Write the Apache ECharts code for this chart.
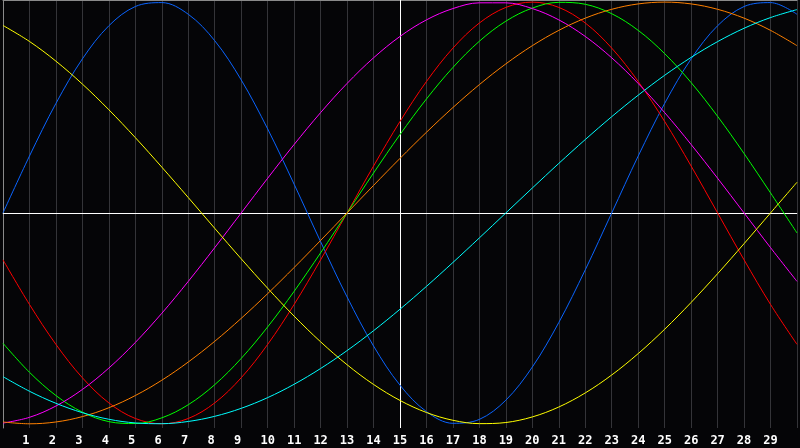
<!DOCTYPE html>
<html><head><meta charset="utf-8">
<script src="https://cdn.jsdelivr.net/npm/echarts@6/dist/echarts.min.js"></script>
<style>html,body{margin:0;padding:0;background:#050507;overflow:hidden;}#c{width:800px;height:448px;}</style>
</head><body><div id="c"></div>
<script>
const days = [0,1,2,3,4,5,6,7,8,9,10,11,12,13,14,15,16,17,18,19,20,21,22,23,24,25,26,27,28,29,30];
const tickLabels = ['1','2','3','4','5','6','7','8','9','10','11','12','13','14','15','16','17','18','19','20','21','22','23','24','25','26','27','28','29'];

const blueValues = [0,0.2698,0.5196,0.7308,0.8879,0.9791,0.9977,0.9423,0.8170,0.6311,0.3984,0.1362,-0.1362,-0.3984,-0.6311,-0.8170,-0.9423,-0.9977,-0.9791,-0.8879,-0.7308,-0.5196,-0.2698,0,0.2698,0.5196,0.7308,0.8879,0.9791,0.9977,0.9423];
const redValues = [-0.2225,-0.4339,-0.6235,-0.7818,-0.9010,-0.9749,-1,-0.9749,-0.9010,-0.7818,-0.6235,-0.4339,-0.2225,0,0.2225,0.4339,0.6235,0.7818,0.9010,0.9749,1,0.9749,0.9010,0.7818,0.6235,0.4339,0.2225,0,-0.2225,-0.4339,-0.6235];
const greenValues = [-0.6182,-0.7557,-0.8660,-0.9450,-0.9898,-0.9989,-0.9718,-0.9096,-0.8146,-0.6901,-0.5406,-0.3717,-0.1893,0,0.1893,0.3717,0.5406,0.6901,0.8146,0.9096,0.9718,0.9989,0.9898,0.9450,0.8660,0.7557,0.6182,0.4582,0.2817,0.0951,-0.0951];
const magentaValues = [-0.9966,-0.9694,-0.9158,-0.8372,-0.7357,-0.6142,-0.4759,-0.3247,-0.1646,0,0.1646,0.3247,0.4759,0.6142,0.7357,0.8372,0.9158,0.9694,0.9966,0.9966,0.9694,0.9158,0.8372,0.7357,0.6142,0.4759,0.3247,0.1646,0,-0.1646,-0.3247];
const yellowValues = [0.8893,0.8134,0.7199,0.6112,0.4894,0.3572,0.2174,0.0730,-0.0730,-0.2174,-0.3572,-0.4894,-0.6112,-0.7199,-0.8134,-0.8893,-0.9465,-0.9834,-0.9993,-0.9940,-0.9675,-0.9204,-0.8536,-0.7685,-0.6671,-0.5516,-0.4244,-0.2881,-0.1456,0,0.1456];
const orangeValues = [-0.9914,-1,-0.9914,-0.9659,-0.9239,-0.8660,-0.7934,-0.7071,-0.6088,-0.5,-0.3827,-0.2588,-0.1305,0,0.1305,0.2588,0.3827,0.5,0.6088,0.7071,0.7934,0.8660,0.9239,0.9659,0.9914,1,0.9914,0.9659,0.9239,0.8660,0.7934];
const cyanValues = [-0.7765,-0.8457,-0.9028,-0.9473,-0.9786,-0.9960,-0.9996,-0.9890,-0.9646,-0.9267,-0.8759,-0.8126,-0.7378,-0.6529,-0.5586,-0.4566,-0.3482,-0.2349,-0.1183,0,0.1183,0.2349,0.3482,0.4566,0.5586,0.6529,0.7378,0.8126,0.8759,0.9267,0.9646];

const seriesDefs = [
  ['blue', blueValues, '#0a64ff'],
  ['red', redValues, '#ff0000'],
  ['green', greenValues, '#00ff00'],
  ['magenta', magentaValues, '#ff00ff'],
  ['yellow', yellowValues, '#ffff00'],
  ['orange', orangeValues, '#ff8000'],
  ['cyan', cyanValues, '#00ffff']
];

const chart = echarts.init(document.getElementById('c'), null, {renderer: 'canvas'});
const series = seriesDefs.map(([name, vals, color], i) => {
  const s = {
    name: name,
    type: 'line',
    data: days.map((d, j) => [d, vals[j]]),
    smooth: 0.35,
    showSymbol: false,
    silent: true,
    lineStyle: {color: color, width: 1},
    itemStyle: {color: color},
    z: 3
  };
  if (i === 0) {
    s.markLine = {
      silent: true,
      symbol: ['none', 'none'],
      label: {show: false},
      lineStyle: {color: '#ffffff', width: 1, type: 'solid'},
      data: [{xAxis: 15}, {yAxis: 0}],
      z: 2
    };
  }
  return s;
});

chart.setOption({
  animation: false,
  backgroundColor: '#050507',
  grid: {left: 0, right: 0, top: 0, bottom: 20, containLabel: false},
  xAxis: [{
    type: 'value', min: 0, max: 30, interval: 1, position: 'bottom',
    axisLine: {show: true, lineStyle: {color: '#8a8a8a', width: 1}},
    axisTick: {show: false},
    splitLine: {show: true, lineStyle: {color: '#343438', width: 1}},
    axisLabel: {
      show: true, color: '#ffffff', fontWeight: 'bold', fontSize: 12,
      fontFamily: 'DejaVu Sans Mono', margin: 7,
      formatter: v => {
        if (v < 1 || v > 29) return '';
        const t = tickLabels[v - 1];
        return t.length === 1 ? t + ' ' : t;
      }
    }
  }, {
    type: 'value', min: 0, max: 30, position: 'top',
    axisLine: {show: true, lineStyle: {color: '#8a8a8a', width: 1}},
    axisTick: {show: false}, axisLabel: {show: false}, splitLine: {show: false}
  }],
  yAxis: {
    type: 'value', min: -1.02, max: 1.01,
    axisLine: {show: true, lineStyle: {color: '#8a8a8a', width: 1}},
    axisTick: {show: false}, axisLabel: {show: false}, splitLine: {show: false}
  },
  series: series
});
</script>
</body></html>
